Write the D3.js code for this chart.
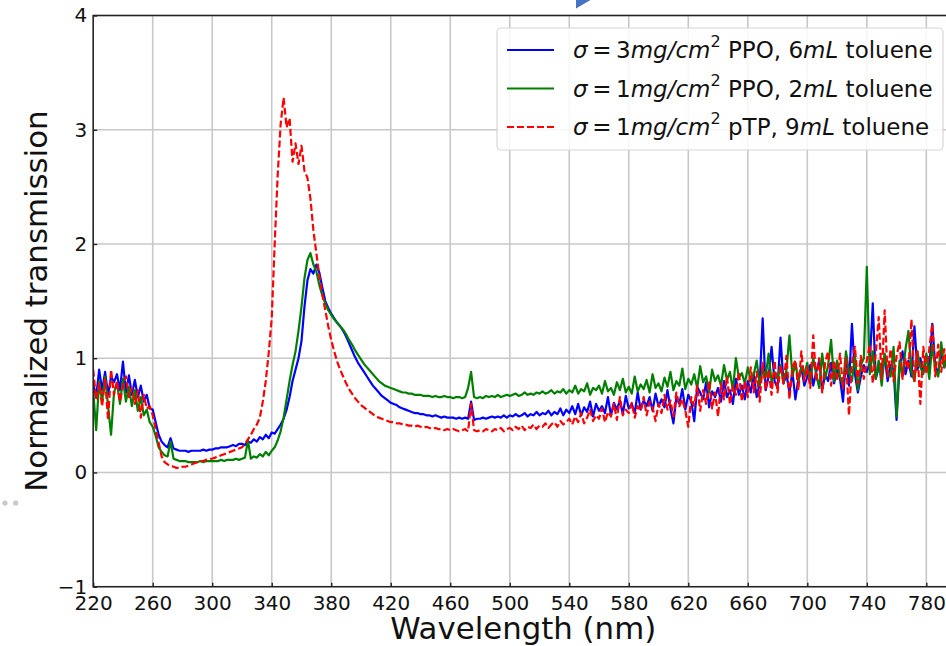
<!DOCTYPE html>
<html>
<head>
<meta charset="utf-8">
<script src="https://cdn.jsdelivr.net/npm/d3@7"></script>
<style>
  body { margin: 0; background: #fff; }
  text { font-family: "DejaVu Sans", sans-serif; fill: #111; }
</style>
</head>
<body>
<div id="chart"></div>
<script>
// sampled every 2 nm, 220 .. 794
var wavelengths = d3.range(220, 796, 2)

var ppo3 = [
  0.78, 0.66, 0.90, 0.72, 0.88, 0.68, 0.84, 0.79, 0.86, 0.72,
  0.97, 0.70, 0.85, 0.68, 0.81, 0.66, 0.76, 0.62, 0.68, 0.56,
  0.55, 0.44, 0.33, 0.27, 0.24, 0.22, 0.30, 0.21, 0.20, 0.19,
  0.19, 0.19, 0.18, 0.19, 0.19, 0.19, 0.19, 0.20, 0.19, 0.20,
  0.20, 0.21, 0.21, 0.22, 0.22, 0.22, 0.23, 0.24, 0.23, 0.25,
  0.25, 0.24, 0.27, 0.26, 0.29, 0.27, 0.31, 0.29, 0.33, 0.30,
  0.35, 0.34, 0.38, 0.42, 0.47, 0.55, 0.66, 0.80, 0.90, 1.00,
  1.15, 1.45, 1.68, 1.78, 1.74, 1.82, 1.75, 1.62, 1.50, 1.44,
  1.39, 1.35, 1.31, 1.28, 1.24, 1.19, 1.13, 1.07, 1.01, 0.96,
  0.92, 0.88, 0.84, 0.80, 0.76, 0.73, 0.70, 0.67, 0.65, 0.63,
  0.61, 0.60, 0.59, 0.57, 0.56, 0.55, 0.54, 0.53, 0.52, 0.52,
  0.51, 0.51, 0.50, 0.50, 0.49, 0.50, 0.49, 0.48, 0.49, 0.48,
  0.48, 0.48, 0.47, 0.48, 0.47, 0.48, 0.47, 0.62, 0.46, 0.47,
  0.47, 0.48, 0.47, 0.48, 0.49, 0.48, 0.49, 0.48, 0.50, 0.48,
  0.50, 0.49, 0.51, 0.49, 0.50, 0.52, 0.49, 0.51, 0.50, 0.53,
  0.50, 0.52, 0.51, 0.54, 0.50, 0.53, 0.51, 0.56, 0.50, 0.55,
  0.52, 0.58, 0.51, 0.60, 0.50, 0.57, 0.53, 0.62, 0.49, 0.60,
  0.54, 0.58, 0.52, 0.66, 0.50, 0.61, 0.55, 0.63, 0.51, 0.67,
  0.56, 0.60, 0.52, 0.70, 0.55, 0.63, 0.58, 0.66, 0.54, 0.69,
  0.58, 0.64, 0.57, 0.72, 0.56, 0.43, 0.66, 0.60, 0.73, 0.55,
  0.68, 0.62, 0.45, 0.75, 0.70, 0.64, 0.79, 0.57, 0.71, 0.66,
  0.74, 0.62, 0.80, 0.66, 0.72, 0.60, 0.82, 0.68, 0.76, 0.64,
  0.80, 0.70, 0.86, 0.66, 0.78, 1.35, 0.72, 0.84, 1.10, 0.80,
  0.74, 1.18, 0.78, 0.86, 0.70, 0.88, 0.64, 0.82, 0.92, 0.76,
  0.84, 0.94, 0.76, 0.88, 0.98, 0.72, 0.86, 0.80, 0.96, 0.78,
  0.90, 0.82, 0.62, 1.00, 0.76, 1.30, 0.86, 0.70, 0.84, 0.94,
  0.88, 0.96, 1.48, 0.82, 0.92, 0.86, 1.02, 0.80, 0.94, 0.90,
  0.46, 0.92, 1.06, 0.86, 0.98, 0.84, 1.28, 0.90, 1.00, 0.88,
  1.02, 0.90, 1.30, 0.94, 0.86, 1.06, 0.92, 1.00
]

var ppo1 = [
  0.72, 0.37, 0.80, 0.62, 0.84, 0.58, 0.33, 0.70, 0.78, 0.60,
  0.82, 0.62, 0.75, 0.58, 0.72, 0.54, 0.66, 0.50, 0.55, 0.44,
  0.40, 0.32, 0.22, 0.18, 0.15, 0.14, 0.27, 0.12, 0.11, 0.10,
  0.10, 0.10, 0.09, 0.09, 0.09, 0.09, 0.10, 0.09, 0.10, 0.10,
  0.10, 0.10, 0.10, 0.11, 0.10, 0.11, 0.11, 0.11, 0.12, 0.11,
  0.12, 0.13, 0.28, 0.12, 0.14, 0.13, 0.16, 0.14, 0.18, 0.15,
  0.19, 0.22, 0.28, 0.36, 0.48, 0.64, 0.80, 0.94, 1.06, 1.24,
  1.45, 1.70, 1.86, 1.92, 1.82, 1.76, 1.64, 1.55, 1.48, 1.42,
  1.38, 1.34, 1.31, 1.28, 1.25, 1.21, 1.16, 1.12, 1.07, 1.03,
  0.99, 0.95, 0.92, 0.89, 0.86, 0.83, 0.80, 0.78, 0.76, 0.75,
  0.74, 0.73, 0.72, 0.71, 0.70, 0.70, 0.69, 0.69, 0.68, 0.68,
  0.68, 0.67, 0.67, 0.67, 0.66, 0.67, 0.66, 0.66, 0.67, 0.66,
  0.66, 0.65, 0.66, 0.66, 0.65, 0.66, 0.74, 0.88, 0.66, 0.65,
  0.66, 0.65, 0.67, 0.66, 0.67, 0.66, 0.68, 0.66, 0.67, 0.68,
  0.67, 0.68, 0.69, 0.67, 0.68, 0.70, 0.68, 0.69, 0.68, 0.70,
  0.69, 0.71, 0.69, 0.70, 0.72, 0.69, 0.71, 0.70, 0.73, 0.69,
  0.72, 0.70, 0.76, 0.69, 0.73, 0.71, 0.78, 0.68, 0.74, 0.72,
  0.76, 0.69, 0.80, 0.71, 0.74, 0.68, 0.79, 0.72, 0.82, 0.70,
  0.75, 0.69, 0.84, 0.71, 0.77, 0.73, 0.81, 0.70, 0.86, 0.74,
  0.78, 0.71, 0.83, 0.75, 0.88, 0.72, 0.80, 0.76, 0.91, 0.73,
  0.82, 0.77, 0.86, 0.74, 0.93, 0.79, 0.84, 0.70, 0.90, 0.80,
  0.85, 0.76, 0.94, 0.81, 0.88, 0.72, 1.00, 0.83, 0.87, 0.78,
  0.92, 0.80, 0.86, 0.98, 0.76, 0.90, 0.84, 1.04, 0.79, 0.88,
  0.82, 0.94, 0.78, 0.90, 1.20, 0.84, 0.96, 0.80, 0.92, 0.86,
  0.96, 0.78, 1.00, 0.86, 0.74, 1.04, 0.82, 0.94, 1.16, 0.80,
  0.98, 0.84, 0.76, 1.06, 0.88, 0.80, 1.02, 0.72, 0.94, 1.00,
  1.80, 0.86, 1.06, 0.82, 0.98, 0.76, 1.04, 0.88, 0.84, 1.10,
  0.49, 0.98, 0.84, 1.08, 1.24, 0.88, 0.80, 1.06, 0.92, 0.86,
  1.04, 0.82, 1.12, 0.90, 0.84, 1.14, 0.92, 1.06
]

var ptp1 = [
  0.90, 0.64, 0.78, 0.58, 0.82, 0.46, 0.90, 0.68, 0.80, 0.62,
  0.76, 0.84, 0.66, 0.74, 0.60, 0.72, 0.48, 0.68, 0.56, 0.58,
  0.50, 0.38, 0.26, 0.14, 0.09, 0.07, 0.06, 0.05, 0.04, 0.04,
  0.05, 0.05, 0.06, 0.07, 0.08, 0.09, 0.10, 0.10, 0.11, 0.12,
  0.12, 0.13, 0.14, 0.15, 0.16, 0.17, 0.18, 0.19, 0.20, 0.21,
  0.22, 0.25, 0.29, 0.33, 0.38, 0.42, 0.48, 0.62, 0.80, 1.05,
  1.35, 2.00, 2.60, 3.05, 3.28, 3.02, 3.10, 2.72, 2.88, 2.70,
  2.86, 2.64, 2.58, 2.40, 2.12, 1.92, 1.72, 1.56, 1.42, 1.28,
  1.16, 1.06, 0.97, 0.90, 0.84, 0.78, 0.73, 0.69, 0.65, 0.62,
  0.59, 0.57, 0.55, 0.53, 0.51, 0.49, 0.48, 0.47, 0.46, 0.45,
  0.44, 0.44, 0.43, 0.43, 0.42, 0.42, 0.41, 0.41, 0.40, 0.41,
  0.40, 0.39, 0.40, 0.39, 0.38, 0.39, 0.38, 0.38, 0.37, 0.38,
  0.37, 0.38, 0.37, 0.36, 0.37, 0.38, 0.36, 0.60, 0.37, 0.36,
  0.37, 0.36, 0.38, 0.37, 0.36, 0.38, 0.37, 0.39, 0.36, 0.38,
  0.39, 0.37, 0.40, 0.38, 0.41, 0.37, 0.40, 0.39, 0.42, 0.38,
  0.41, 0.40, 0.43, 0.39, 0.42, 0.44, 0.40, 0.45, 0.42, 0.44,
  0.47, 0.42, 0.49, 0.44, 0.52, 0.43, 0.48, 0.55, 0.45, 0.50,
  0.47, 0.56, 0.44, 0.53, 0.49, 0.60, 0.46, 0.66, 0.50, 0.55,
  0.52, 0.61, 0.48, 0.58, 0.54, 0.66, 0.50, 0.62, 0.57, 0.45,
  0.60, 0.52, 0.68, 0.55, 0.63, 0.49, 0.70, 0.58, 0.64, 0.54,
  0.40, 0.66, 0.58, 0.76, 0.54, 0.72, 0.60, 0.80, 0.56, 0.70,
  0.49, 0.78, 0.64, 0.84, 0.60, 0.76, 0.68, 0.88, 0.62, 0.80,
  0.66, 0.92, 0.70, 0.88, 0.62, 0.96, 0.72, 0.90, 0.68, 0.98,
  0.70, 0.94, 0.78, 1.02, 0.64, 0.92, 0.98, 0.72, 1.06, 0.80,
  0.92, 0.74, 1.20, 0.80, 1.00, 0.70, 0.96, 1.06, 0.76, 0.98,
  0.80, 1.04, 0.74, 1.00, 0.50, 0.96, 1.10, 0.78, 1.02, 0.82,
  0.98, 1.12, 0.78, 1.04, 1.36, 0.82, 1.42, 0.84, 1.08, 0.80,
  1.02, 1.14, 0.82, 1.00, 0.90, 1.34, 0.80, 1.06, 0.60, 1.10,
  0.86, 1.08, 1.30, 0.84, 1.12, 0.88, 1.08, 0.90
]

var xTicks = [220, 260, 300, 340, 380, 420, 460, 500, 540, 580, 620, 660, 700, 740, 780]
var yTicks = [-1, 0, 1, 2, 3, 4]

var series = [
  {values: ppo3, color: '#0000ff', dash: null, sigma: '3', mat: 'PPO', vol: '6'},
  {values: ppo1, color: '#008000', dash: null, sigma: '1', mat: 'PPO', vol: '2'},
  {values: ptp1, color: '#ff0000', dash: '7,3', sigma: '1', mat: 'pTP', vol: '9'}
]

var W = 946, H = 646
var svg = d3.select('#chart').append('svg').attr('width', W).attr('height', H)
svg.append('rect').attr('width', W).attr('height', H).attr('fill', '#fff')

var x = d3.scaleLinear().domain([220, 798]).range([93.2, 953.1])
var y = d3.scaleLinear().domain([-1, 4]).range([586.7, 15.5])
var pL = x.range()[0], pR = x.range()[1], pT = y.range()[1], pB = y.range()[0]

// grid
svg.append('g').selectAll('line').data(xTicks).join('line')
  .attr('x1', d => x(d)).attr('x2', d => x(d)).attr('y1', pT).attr('y2', pB)
  .attr('stroke', '#c8c8c8').attr('stroke-width', 1.6)
svg.append('g').selectAll('line').data(yTicks).join('line')
  .attr('x1', pL).attr('x2', pR).attr('y1', d => y(d)).attr('y2', d => y(d))
  .attr('stroke', '#c8c8c8').attr('stroke-width', 1.6)

svg.append('clipPath').attr('id', 'clip').append('rect')
  .attr('x', pL).attr('y', pT).attr('width', pR - pL).attr('height', pB - pT)

var line = d3.line().x((d, i) => x(wavelengths[i])).y(d => y(d))

var plot = svg.append('g').attr('clip-path', 'url(#clip)')
series.forEach(function(s){
  plot.append('path').attr('d', line(s.values))
    .attr('fill', 'none').attr('stroke', s.color).attr('stroke-width', 2.2)
    .attr('stroke-linejoin', 'round')
    .attr('stroke-dasharray', s.dash)
})

// axes (ticks inward)
var xAxis = d3.axisBottom(x).tickValues(xTicks).tickSize(-4).tickPadding(8).tickFormat(d3.format('d'))
var yAxis = d3.axisLeft(y).tickValues(yTicks).tickSize(-4).tickPadding(6).tickFormat(d => d < 0 ? '\u2212' + (-d) : d)

var gx = svg.append('g').attr('transform', 'translate(0,' + pB + ')').call(xAxis)
var gy = svg.append('g').attr('transform', 'translate(' + pL + ',0)').call(yAxis)
;[gx, gy].forEach(function(g){
  g.select('.domain').remove()
  g.selectAll('.tick line').attr('stroke', '#222').attr('stroke-width', 1.4)
  g.selectAll('.tick text').attr('font-size', 20).attr('font-family', '"DejaVu Sans", sans-serif').attr('fill', '#111')
})
gx.selectAll('.tick text').attr('dy', '0.76em')

// spines
svg.append('rect').attr('x', pL).attr('y', pT).attr('width', pR - pL).attr('height', pB - pT)
  .attr('fill', 'none').attr('stroke', '#222').attr('stroke-width', 1.5)

svg.append('text').attr('x', (pL + pR) / 2).attr('y', 638.5).attr('text-anchor', 'middle')
  .attr('font-size', 30.8).text('Wavelength (nm)')
svg.append('text').attr('transform', 'translate(46.5,' + ((pT + pB) / 2) + ') rotate(-90)')
  .attr('text-anchor', 'middle').attr('font-size', 30.8).text('Normalized transmission')

// legend
var lg = svg.append('g')
lg.append('rect').attr('x', 497).attr('y', 28).attr('width', 446).attr('height', 122).attr('rx', 4)
  .attr('fill', 'rgba(255,255,255,0.85)').attr('stroke', '#d6d6d6').attr('stroke-width', 1.2)
series.forEach(function(s, i){
  var ly = 50 + i * 38.5
  lg.append('line').attr('x1', 507).attr('x2', 554).attr('y1', ly).attr('y2', ly)
    .attr('stroke', s.color).attr('stroke-width', 2.2).attr('stroke-dasharray', s.dash)
  var t = lg.append('text').attr('x', 573).attr('y', ly + 8).attr('font-size', 23)
  t.append('tspan').attr('font-style', 'italic').text('\u03c3')
  t.append('tspan').text('\u2009=\u2009' + s.sigma)
  t.append('tspan').attr('font-style', 'italic').text('mg/cm')
  t.append('tspan').attr('font-size', 16).attr('dy', -11).text('2')
  t.append('tspan').attr('dy', 11).text(' ' + s.mat + ', ' + s.vol)
  t.append('tspan').attr('font-style', 'italic').text('mL')
  t.append('tspan').text(' toluene')
})

// stray marks at the edges of the picture
svg.append('path').attr('d', 'M576,0L590.5,0L576,8.5Z').attr('fill', '#4472c4')
svg.selectAll('circle.dot').data([5, 15.7]).join('circle').attr('class', 'dot')
  .attr('cx', d => d).attr('cy', 503).attr('r', 2.6).attr('fill', '#c8c8c8')
</script>
</body>
</html>
